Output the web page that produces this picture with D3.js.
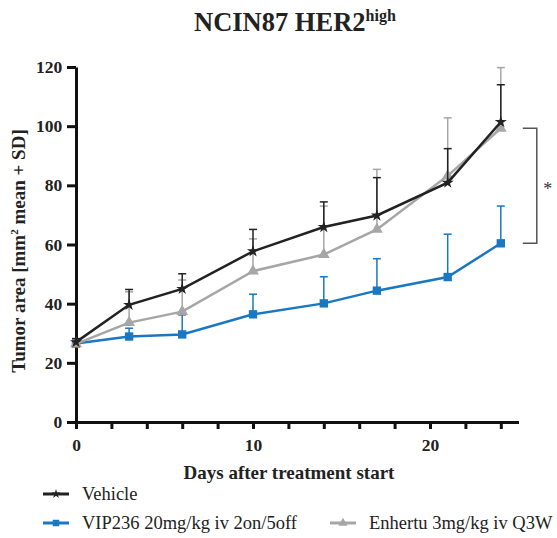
<!DOCTYPE html>
<html>
<head>
<meta charset="utf-8">
<script src="https://cdn.jsdelivr.net/npm/d3@7"></script>
<style>
  body { margin: 0; background: #fff; }
  svg text { font-family: "Liberation Serif", "Times New Roman", serif; }
</style>
</head>
<body>
<div id="chart"></div>
<script>
var days = [0, 3, 6, 10, 14, 17, 21, 24];

// mean values per group
var vehicleMean = [27.0, 39.6, 45.0, 57.7, 65.9, 69.8, 80.9, 101.4];
var vehicleSD   = [1.2, 5.2, 5.1, 7.4, 8.5, 12.8, 11.5, 12.6];

var vipMean = [26.5, 28.9, 29.6, 36.4, 40.1, 44.4, 49.0, 60.4];
var vipSD   = [1.0, 2.8, 6.6, 6.8, 9.0, 10.8, 14.5, 12.6];

var enhMean = [26.4, 33.6, 37.3, 51.0, 56.6, 65.1, 83.2, 99.3];
var enhSD   = [1.4, 10.4, 10.7, 10.9, 16.4, 20.3, 19.6, 20.5];

var xTicks = [0, 2, 4, 6, 8, 10, 12, 14, 16, 18, 20, 22, 24];
var xLabels = [0, 10, 20];
var yTicks = [0, 20, 40, 60, 80, 100, 120];

var groups = [
    { name: "VIP236 20mg/kg iv 2on/5off", mean: vipMean, sd: vipSD, color: "#1a78c2", symbol: d3.symbolSquare, size: 70 },
    { name: "Enhertu 3mg/kg iv Q3W", mean: enhMean, sd: enhSD, color: "#a6a6a6", symbol: d3.symbolTriangle, size: 60 },
    { name: "Vehicle", mean: vehicleMean, sd: vehicleSD, color: "#222222", symbol: d3.symbolStar, size: 45 }
];

var width = 557, height = 538;

var svg = d3.select("#chart").append("svg")
    .attr("width", width)
    .attr("height", height);

var x = d3.scaleLinear().domain([0, 25]).range([76, 518.5]);
var y = d3.scaleLinear().domain([0, 120]).range([422, 67]);

// title
var title = svg.append("text")
    .attr("x", 194)
    .attr("y", 31)
    .attr("font-size", 26.5)
    .attr("font-weight", "bold")
    .attr("fill", "#222");
title.append("tspan").text("NCIN87 HER2");
title.append("tspan").attr("font-size", 16).attr("dy", -10).text("high");

// axes
var xAxis = d3.axisBottom(x)
    .tickValues(xTicks)
    .tickSize(7)
    .tickSizeOuter(0)
    .tickFormat(function (d) { return xLabels.indexOf(d) >= 0 ? d : ""; });

var yAxis = d3.axisLeft(y)
    .tickValues(yTicks)
    .tickSize(9)
    .tickSizeOuter(0);

var gx = svg.append("g")
    .attr("transform", "translate(0," + y(0) + ")")
    .call(xAxis);

var gy = svg.append("g")
    .attr("transform", "translate(" + x(0) + ",0)")
    .call(yAxis);

[gx, gy].forEach(function (g) {
    g.attr("font-family", null);
    g.select(".domain").attr("stroke", "#111").attr("stroke-width", 3);
    g.selectAll(".tick line").attr("stroke", "#111").attr("stroke-width", 3);
    g.selectAll(".tick text")
        .attr("font-size", 17.5)
        .attr("font-weight", "bold")
        .attr("fill", "#222");
});
gx.selectAll(".tick text").attr("dy", "1.1em");
gy.selectAll(".tick text").attr("dx", "-0.1em");

// axis titles
svg.append("text")
    .attr("x", 289)
    .attr("y", 479)
    .attr("text-anchor", "middle")
    .attr("font-size", 19)
    .attr("font-weight", "bold")
    .attr("fill", "#222")
    .text("Days after treatment start");

var ylab = svg.append("text")
    .attr("transform", "translate(25,251) rotate(-90)")
    .attr("text-anchor", "middle")
    .attr("font-size", 19)
    .attr("font-weight", "bold")
    .attr("fill", "#222");
ylab.append("tspan").text("Tumor area [mm");
ylab.append("tspan").attr("font-size", 11).attr("dy", -7).text("2");
ylab.append("tspan").attr("dy", 7).text(" mean + SD]");

// series
var line = d3.line()
    .x(function (d) { return x(d.day); })
    .y(function (d) { return y(d.mean); });

groups.forEach(function (g) {
    var pts = days.map(function (d, i) { return { day: d, mean: g.mean[i], sd: g.sd[i] }; });
    var layer = svg.append("g");

    // error bars (mean + SD only)
    layer.selectAll(".err")
        .data(pts)
        .enter().append("line")
        .attr("x1", function (d) { return x(d.day); })
        .attr("x2", function (d) { return x(d.day); })
        .attr("y1", function (d) { return y(d.mean); })
        .attr("y2", function (d) { return y(d.mean + d.sd); })
        .attr("stroke", g.color)
        .attr("stroke-width", 1.5);

    layer.selectAll(".cap")
        .data(pts)
        .enter().append("line")
        .attr("x1", function (d) { return x(d.day) - 4; })
        .attr("x2", function (d) { return x(d.day) + 4; })
        .attr("y1", function (d) { return y(d.mean + d.sd); })
        .attr("y2", function (d) { return y(d.mean + d.sd); })
        .attr("stroke", g.color)
        .attr("stroke-width", 1.5);

    layer.append("path")
        .datum(pts)
        .attr("d", line)
        .attr("fill", "none")
        .attr("stroke", g.color)
        .attr("stroke-width", 2.5);

    layer.selectAll(".mk")
        .data(pts)
        .enter().append("path")
        .attr("d", d3.symbol().type(g.symbol).size(g.size))
        .attr("transform", function (d) { return "translate(" + x(d.day) + "," + y(d.mean) + ")"; })
        .attr("fill", g.color);
});

// significance bracket between groups at last day
var last = days.length - 1;
var bx = x(days[last]) + 22;
svg.append("path")
    .attr("d", "M" + bx + "," + y(enhMean[last]) + "H" + (bx + 14) + "V" + y(vipMean[last]) + "H" + bx)
    .attr("fill", "none")
    .attr("stroke", "#555")
    .attr("stroke-width", 1.5);
svg.append("text")
    .attr("x", bx + 25)
    .attr("y", (y(enhMean[last]) + y(vipMean[last])) / 2 + 9)
    .attr("text-anchor", "middle")
    .attr("font-size", 18)
    .attr("fill", "#333")
    .text("*");

// legend
var legendRows = [
    { g: groups[2], x: 43, y: 494 },
    { g: groups[0], x: 43, y: 523 },
    { g: groups[1], x: 330, y: 523 }
];
var leg = svg.append("g");
legendRows.forEach(function (r) {
    leg.append("line")
        .attr("x1", r.x).attr("x2", r.x + 26)
        .attr("y1", r.y).attr("y2", r.y)
        .attr("stroke", r.g.color)
        .attr("stroke-width", 3);
    leg.append("path")
        .attr("d", d3.symbol().type(r.g.symbol).size(r.g.size * 0.6))
        .attr("transform", "translate(" + (r.x + 13) + "," + r.y + ")")
        .attr("fill", r.g.color);
    leg.append("text")
        .attr("x", r.x + 39)
        .attr("y", r.y + 6)
        .attr("font-size", 18.5)
        .attr("fill", "#222")
        .text(r.g.name);
});
</script>
</body>
</html>
